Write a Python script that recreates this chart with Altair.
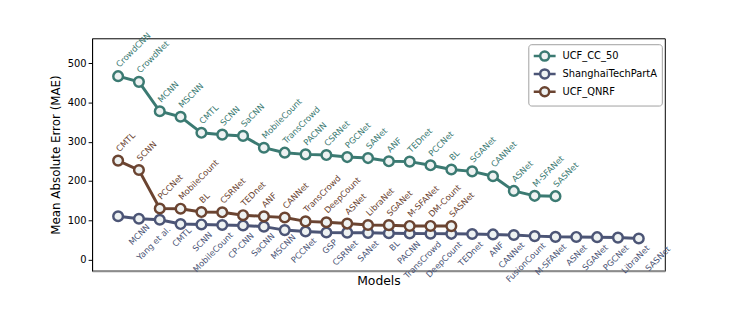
import altair as alt
import pandas as pd

series_names = ["UCF_CC_50", "ShanghaiTechPartA", "UCF_QNRF"]
series_colors = ["#3b7a72", "#4c5576", "#6b4431"]

cc50_models = ["CrowdCNN", "CrowdNet", "MCNN", "MSCNN", "CMTL", "SCNN", "SaCNN",
               "MobileCount", "TransCrowd", "PACNN", "CSRNet", "PGCNet", "SANet",
               "ANF", "TEDnet", "PCCNet", "BL", "SGANet", "CANNet", "ASNet",
               "M-SFANet", "SASNet"]
cc50_mae = [467.0, 452.5, 377.6, 363.7, 322.8, 318.1, 314.9, 284.8, 272.2, 267.9,
            266.1, 261.0, 258.4, 250.2, 249.4, 240.0, 229.3, 224.6, 212.2, 174.8,
            162.3, 161.4]

sha_models = ["MCNN", "Yang et al.", "CMTL", "SCNN", "MobileCount", "CP-CNN", "SaCNN",
              "MSCNN", "PCCNet", "GSP", "CSRNet", "SANet", "BL", "PACNN", "TransCrowd",
              "DeepCount", "TEDnet", "ANF", "CANNet", "FusionCount", "M-SFANet",
              "ASNet", "SGANet", "PGCNet", "LibraNet", "SASNet"]
sha_mae = [110.2, 104.0, 101.3, 90.4, 89.4, 88.0, 86.8, 83.8, 75.0, 71.5, 69.0, 68.5,
           68.0, 67.0, 66.5, 66.0, 65.5, 65.0, 64.0, 62.5, 59.7, 57.8, 57.6, 57.0,
           55.9, 53.6]

qnrf_models = ["CMTL", "SCNN", "PCCNet", "MobileCount", "BL", "CSRNet", "TEDnet", "ANF",
               "CANNet", "TransCrowd", "DeepCount", "ASNet", "LibraNet", "SGANet",
               "M-SFANet", "DM-Count", "SASNet"]
qnrf_mae = [252.0, 228.0, 130.0, 129.5, 121.0, 120.3, 113.0, 110.0, 107.0, 97.2, 95.0,
            91.6, 88.1, 87.6, 85.6, 85.6, 85.2]

y_ticks = [0, 100, 200, 300, 400, 500]

rows = []
for name, models, maes in [(series_names[0], cc50_models, cc50_mae),
                           (series_names[1], sha_models, sha_mae),
                           (series_names[2], qnrf_models, qnrf_mae)]:
    for i, (m, v) in enumerate(zip(models, maes)):
        rows.append({"series": name, "idx": i, "model": m, "mae": v})
df = pd.DataFrame(rows)

FONT = "DejaVu Sans"
MARKER_FILL = "#eef2f2"
# line-with-circle legend glyph (path units scaled by sqrt(size)/2)
LEGEND_PATH = ("M-1,0H0M1.4,0H2.4M1.4,0A0.7,0.7,0,1,1,0,0"
               "A0.7,0.7,0,1,1,1.4,0Z")

legend = alt.Legend(title=None, orient="none", legendX=441, legendY=6, padding=4,
                    strokeColor="#a0a0a0", cornerRadius=3, fillColor="white",
                    symbolType=LEGEND_PATH, symbolSize=169, symbolStrokeWidth=2.5,
                    symbolFillColor=MARKER_FILL, labelFont=FONT, labelFontSize=10,
                    labelColor="black", rowPadding=-8, labelOffset=14.5)

x_enc = alt.X("idx:Q",
              scale=alt.Scale(domain=[-1.25, 26.25], nice=False, zero=False),
              axis=alt.Axis(title="Models", labels=False, ticks=False, grid=False,
                            domainColor="#8c8c8c", domainWidth=2,
                            titleFont=FONT, titleFontSize=12.5,
                            titleFontWeight="normal", titleColor="black",
                            titlePadding=4))
y_enc = alt.Y("mae:Q",
              scale=alt.Scale(domain=[-28.5, 563.5], nice=False, zero=False),
              axis=alt.Axis(title="Mean Absolute Error (MAE)", values=y_ticks,
                            grid=False, domainColor="black", tickColor="black",
                            tickSize=4, labelFont=FONT, labelFontSize=10,
                            labelColor="black", labelPadding=2,
                            titleFont=FONT, titleFontSize=12,
                            titleFontWeight="normal", titleColor="black",
                            titlePadding=5))

# reversed domain/range order keeps these scales from being merged with the legend
rev_names = series_names[::-1]
rev_colors = series_colors[::-1]
line_color = alt.Color("series:N",
                       scale=alt.Scale(domain=rev_names, range=rev_colors),
                       legend=None)
fill_enc = alt.Fill("series:N",
                    scale=alt.Scale(domain=rev_names, range=rev_colors),
                    legend=None)
stroke_enc = alt.Stroke("series:N",
                        scale=alt.Scale(domain=series_names, range=series_colors),
                        legend=legend)

base = alt.Chart(df)

lines = base.mark_line(strokeWidth=3).encode(x=x_enc, y=y_enc, color=line_color,
                                              order="idx:Q")
points = base.mark_point(shape="circle", size=95, strokeWidth=2.5, filled=False,
                         fill=MARKER_FILL, opacity=1).encode(
    x=x_enc, y=y_enc, stroke=stroke_enc)

labels_up = base.transform_filter(
    alt.datum.series != "ShanghaiTechPartA"
).mark_text(angle=315, align="left", baseline="middle", dx=7, dy=-8,
            font=FONT, fontSize=8.5).encode(
    x=x_enc, y=y_enc, text="model:N", fill=fill_enc)

labels_down = base.transform_filter(
    alt.datum.series == "ShanghaiTechPartA"
).mark_text(angle=315, align="right", baseline="middle", dx=15, dy=28,
            font=FONT, fontSize=8.5).encode(
    x=x_enc, y=y_enc, text="model:N", fill=fill_enc)

chart = alt.layer(lines, points, labels_up, labels_down).properties(
    width=579, height=235,
    autosize=alt.AutoSizeParams(type="none"),
    padding={"left": 85, "top": 29, "right": 75, "bottom": 32},
).configure_view(stroke="black", strokeWidth=1)

chart.save("out.html", embed_options={"renderer": "svg", "actions": False})
